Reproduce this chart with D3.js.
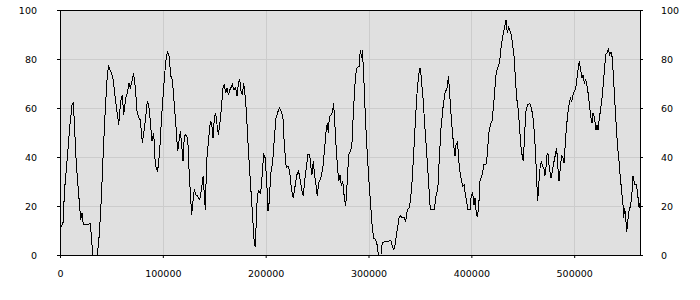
<!DOCTYPE html>
<html>
<head>
<meta charset="utf-8">
<script src="https://cdn.jsdelivr.net/npm/d3@7"></script>
<style>
  body { margin: 0; background: #fff; }
</style>
</head>
<body>
<div id="container"></div>
<script>
// values
var xValues = [0, 2900, 4500, 7100, 9400, 11700, 13000, 14300, 15900, 18200, 20100, 21400, 22700, 27900, 29200, 30500, 31800, 36300, 38200, 40200,
  42100, 44100, 46000, 47300, 49300, 51500, 53800, 55800, 57100, 59000, 60600, 61900, 63900, 65500, 67100, 68400, 70000, 71600, 73300, 74900,
  76800, 78100, 80100, 81700, 83600, 84900, 86200, 87800, 89500, 91100, 92700, 94900, 96900, 98900, 100800, 102800, 104400, 106000, 107900, 109200,
  111200, 113100, 114400, 115700, 117000, 118300, 119600, 120900, 122200, 124200, 125400, 126700, 128000, 129300, 130600, 131900, 133900, 135800, 137800, 139100,
  140400, 141300, 142600, 144300, 146200, 147500, 148800, 150100, 151400, 152700, 154000, 155900, 157200, 158500, 159800, 161100, 162400, 163700, 165300, 167600,
  168900, 170800, 172100, 173400, 174700, 176000, 177300, 178600, 179900, 181200, 183100, 185100, 187000, 188900, 189900, 190600, 191900, 193200, 195100, 196400,
  198000, 199600, 201300, 202300, 203500, 204800, 206800, 208700, 210000, 212000, 213600, 215200, 216800, 218100, 220000, 221700, 223300, 224900, 226800, 228800,
  230400, 232000, 233600, 235300, 236600, 237900, 239500, 241200, 242800, 244100, 245000, 246300, 247600, 249300, 250200, 251500, 253500, 255400, 257400, 258700,
  260000, 260900, 261900, 263900, 265100, 266100, 267100, 268400, 269700, 271000, 272300, 273600, 274900, 276200, 277800, 279100, 280700, 282300, 283700, 284900,
  286200, 287500, 288800, 290800, 292100, 293400, 294000, 295300, 296600, 297900, 299800, 301800, 303700, 305000, 307000, 308300, 309600, 312100, 313400, 315400,
  319300, 321200, 322200, 323200, 324500, 325800, 327700, 329700, 331300, 332900, 334800, 336100, 337800, 339400, 340700, 342600, 344200, 345900, 347500, 349100,
  350100, 351000, 353000, 354900, 356900, 358800, 360100, 364000, 366000, 367300, 368500, 370500, 372400, 374400, 376300, 377800, 379200, 380500, 381800, 383100,
  384100, 385100, 386400, 387300, 388300, 389900, 391600, 392900, 394200, 395500, 396400, 398700, 400000, 401300, 402600, 403600, 404500, 405800, 407100, 408400,
  410400, 412300, 414200, 415500, 416800, 418500, 420100, 421400, 422700, 424000, 425300, 426600, 427900, 429200, 430500, 432100, 433700, 435000, 436300, 437600,
  438900, 440200, 441500, 442800, 444100, 445400, 446700, 448000, 449300, 450600, 451900, 453100, 454800, 457000, 458300, 459600, 460900, 462200, 463200, 464500,
  465500, 466800, 468100, 469400, 470600, 471300, 472300, 473600, 474500, 475800, 477400, 478700, 480400, 481700, 483000, 483900, 485200, 486500, 487800, 489100,
  490100, 491100, 492400, 493700, 495000, 496300, 497600, 498900, 500200, 501500, 502700, 504000, 505000, 506300, 507600, 508600, 509900, 511200, 512500, 513800,
  515100, 516400, 517300, 518300, 519300, 520200, 521200, 522200, 523200, 524100, 525400, 526700, 528000, 529300, 530600, 531900, 533200, 534500, 535800, 537100,
  538400, 539700, 541000, 542300, 543600, 544900, 546200, 547500, 548100, 549100, 550100, 551100, 552000, 553300, 554600, 555900, 557200, 558200, 559200, 560500,
  561800, 563100, 564000];

var yValues = [11, 13, 27, 39.6, 52, 61.3, 62, 50.6, 36.9, 24.6, 14.4, 17, 12.4, 12.4, 13, 8.3, 0, 0, 8.3, 23.3,
  42.3, 60, 73.6, 76.9, 75, 72.2, 64, 57.3, 53.2, 62.7, 65.2, 57.3, 64, 66, 70.2, 68.2, 70.9, 74.1, 68.2, 58.6,
  55.9, 55.2, 45.7, 50.5, 57.3, 63, 61.3, 54.6, 46.4, 49.8, 36.9, 34, 42.3, 57.3, 68.2, 79, 83.1, 81.1, 72.9, 71.6,
  61.3, 50.5, 42.3, 46.4, 50.5, 45, 38.2, 48.4, 49.1, 47.8, 35.5, 26, 16.5, 21.9, 26.7, 24.6, 24, 22.6, 27.3, 32.1,
  24.6, 18.5, 38.2, 46.4, 54.6, 53.9, 47.8, 55.9, 58, 53.2, 49.1, 55.2, 61.3, 68.2, 69.8, 66.1, 68.2, 65.4, 67.5, 69.5,
  67.5, 68.2, 64.8, 69.5, 72, 66.8, 65.4, 70.2, 65.4, 58.6, 43.7, 30.1, 17.8, 5, 3.1, 11, 24.6, 26, 25.3, 31.4,
  40.9, 39.6, 27.3, 17.8, 21.9, 32.8, 38.2, 49.1, 55.9, 58.6, 60, 58.6, 55.9, 45, 35.5, 36.2, 34.2, 27.3, 23.3, 28.7,
  32.8, 34.2, 30.7, 26, 24, 30.1, 35.5, 41.2, 40.9, 35.5, 32.8, 38.2, 32.8, 27.3, 24, 29.4, 31.4, 34.8, 43.7, 50.5,
  53.9, 49.8, 56.6, 57.3, 58.6, 62, 54.6, 45, 36.9, 30.1, 32.8, 28, 30.1, 24.6, 19.9, 28.7, 40.9, 42.3, 44, 54.6,
  65.4, 73.6, 76.3, 77, 83.8, 80.4, 83.8, 73.6, 60, 47.8, 34.2, 21.9, 11, 6.9, 6.3, 4.2, 0, 0, 4.9, 5.3,
  5.6, 6, 5.6, 3.5, 2.2, 4.2, 9.7, 15.1, 16.2, 15.1, 15.4, 13.7, 18.5, 19.2, 21.9, 31.4, 43.7, 57.3, 68.2, 74.3,
  76.3, 73.6, 64, 51.8, 39.6, 27.3, 18.5, 18.5, 25.3, 26, 36.9, 51.8, 60, 66.1, 68.2, 72.9, 64, 55.9, 49.1, 43.7,
  40.3, 45, 46.1, 42.3, 35.5, 31.4, 28, 28.7, 24.6, 21.9, 18.5, 18.5, 24.6, 25.3, 20.5, 23.3, 18.5, 15.4, 19.2, 30.1,
  32.8, 36.9, 36.9, 40.9, 49.1, 53.2, 54.6, 60, 66.8, 73.6, 76.3, 77, 80.4, 85.8, 89.3, 92.7, 96, 90.6, 92.9, 91.3,
  89.9, 85.8, 81.1, 72.2, 64, 60, 53.2, 45, 40.9, 38.2, 50.5, 58.6, 61.3, 61.8, 60, 57.3, 51.8, 43.7, 34.2, 21.9,
  28.7, 35.5, 38.2, 36.2, 35.5, 32.1, 34.2, 40.9, 41.6, 35.5, 31.4, 34.2, 38.2, 40.9, 43.7, 36.9, 30.1, 35.5, 40.9, 39.6,
  37.6, 43.7, 51.8, 57.3, 61.3, 64, 62.7, 65.4, 66.8, 68.2, 72.2, 76.3, 79, 75.6, 72.2, 73.6, 70.2, 71.6, 68.8, 65.4,
  60, 55.9, 53.9, 58, 56.6, 54.6, 51.1, 53.2, 51.1, 54.6, 58.6, 62.7, 68.2, 75, 81.8, 82.4, 83.8, 81.8, 82.9, 80.4,
  70.9, 61.3, 51.8, 43.7, 38.2, 31.4, 26, 20.5, 15.1, 19.2, 15.1, 9.4, 13.7, 17.8, 19.9, 23.3, 32.1, 30.1, 28.7, 28.7,
  24.6, 19.2, 21.2];

var xTicks = [0, 100000, 200000, 300000, 400000, 500000];
var yTicks = [0, 20, 40, 60, 80, 100];

var width = 700;
var height = 300;
var svg = d3.select("#container").append("svg").attr("width", width).attr("height", height);

var x = d3.scaleLinear().domain([0, d3.max(xValues)]).range([60, 640]);
var y = d3.scaleLinear().domain([0, 100]).range([255, 10]);

// plot background
svg.append("rect")
  .attr("x", 60).attr("y", 10).attr("width", 580).attr("height", 245)
  .attr("fill", "#e0e0e0");

// grid
svg.append("g").selectAll("line")
  .data(xTicks.filter(function(d) { return d > 0; }))
  .enter().append("line")
  .attr("x1", function(d) { return Math.round(x(d)) + 0.5; })
  .attr("x2", function(d) { return Math.round(x(d)) + 0.5; })
  .attr("y1", 10).attr("y2", 255)
  .attr("stroke", "#cccccc");
svg.append("g").selectAll("line")
  .data(yTicks.filter(function(d) { return d > 0 && d < 100; }))
  .enter().append("line")
  .attr("y1", function(d) { return Math.round(y(d)) + 0.5; })
  .attr("y2", function(d) { return Math.round(y(d)) + 0.5; })
  .attr("x1", 60).attr("x2", 640)
  .attr("stroke", "#cccccc");

// the series
var pts = xValues.map(function(d, i) { return [d, yValues[i]]; });
var line = d3.line().x(function(d) { return x(d[0]); }).y(function(d) { return y(d[1]); });
svg.append("path").datum(pts)
  .attr("d", line)
  .attr("fill", "none")
  .attr("stroke", "#000")
  .attr("stroke-width", 1)
  .attr("shape-rendering", "crispEdges");

// frame
svg.append("rect")
  .attr("x", 60.5).attr("y", 10.5).attr("width", 580).attr("height", 245)
  .attr("fill", "none").attr("stroke", "#000");

function styleAxis(g) {
  g.select(".domain").remove();
  g.selectAll("line").attr("stroke", "#000");
  g.selectAll("text").attr("fill", "#000")
    .attr("font-family", "DejaVu Sans").attr("font-size", "9.5px");
}

svg.append("g").attr("transform", "translate(60,0)")
  .call(d3.axisLeft(y).tickValues(yTicks).tickSize(3).tickPadding(20))
  .call(styleAxis);
svg.append("g").attr("transform", "translate(640,0)")
  .call(d3.axisRight(y).tickValues(yTicks).tickSize(3).tickPadding(18))
  .call(styleAxis);
svg.append("g").attr("transform", "translate(0,255)")
  .call(d3.axisBottom(x).tickValues(xTicks).tickSize(3).tickPadding(12).tickFormat(d3.format("d")))
  .call(styleAxis);
</script>
</body>
</html>
